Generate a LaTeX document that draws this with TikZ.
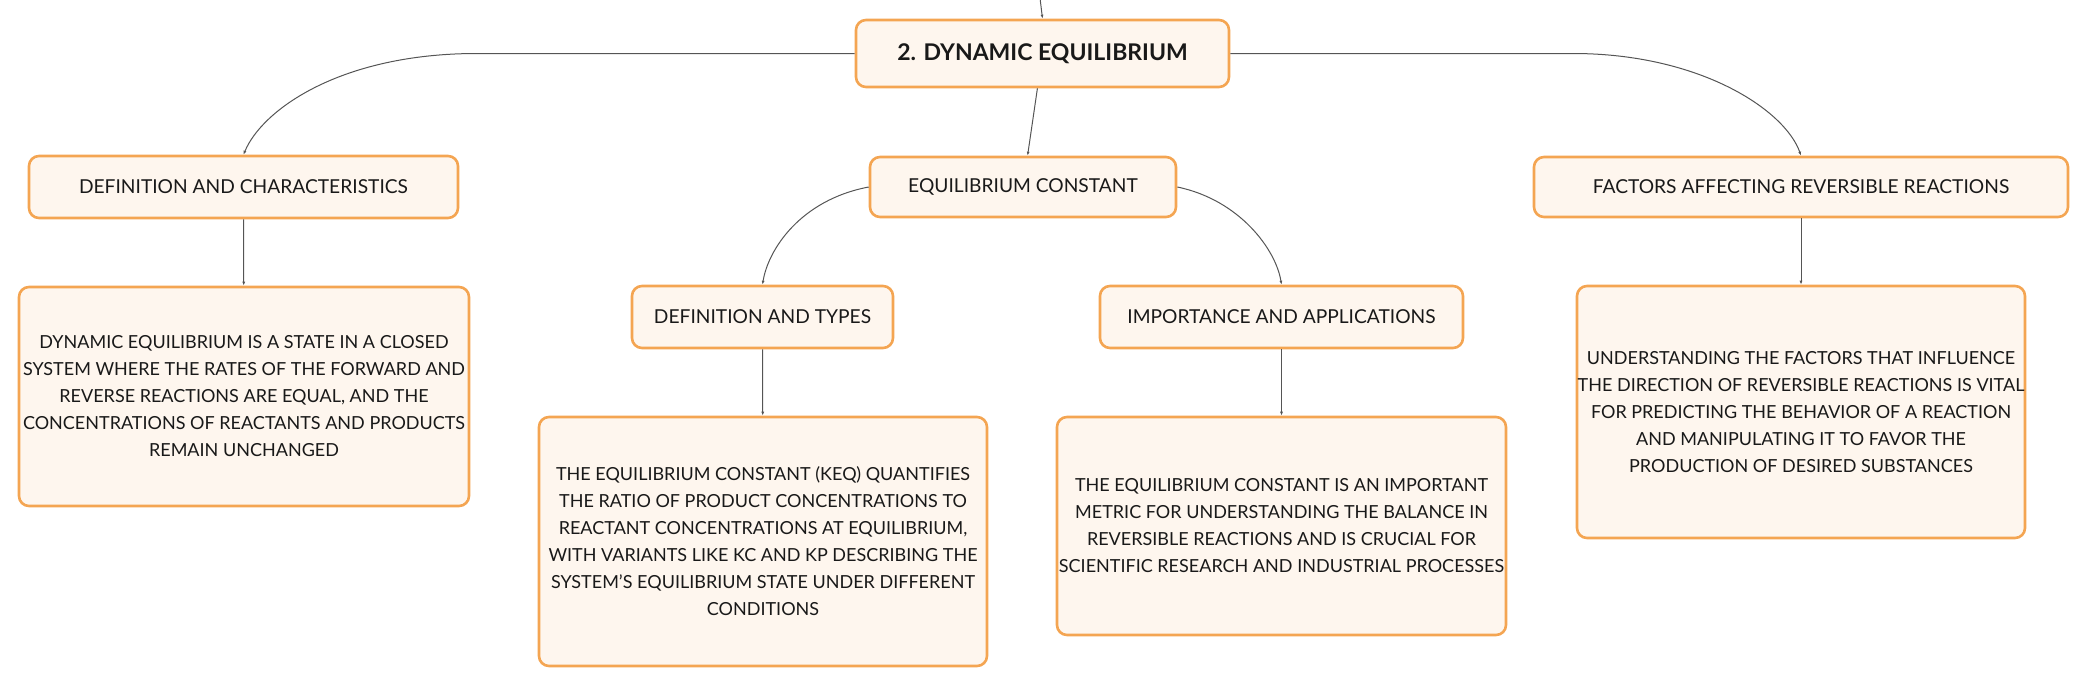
\documentclass[tikz,border=0pt]{standalone}
\usepackage{fontspec}
\setmainfont{Lato}
\usepackage{tikz}
\usetikzlibrary{arrows.meta}
\usepackage{xcolor}
\definecolor{boxline}{HTML}{F4A552}
\definecolor{boxfill}{HTML}{FEF6EE}
\definecolor{linkgray}{HTML}{555555}
\tikzset{
  box/.style={draw=boxline,fill=boxfill,line width=2.6pt,rounded corners=10pt,
    align=center,inner sep=0pt,text=black!90,font=\fontsize{18}{27}\selectfont},
  label/.style={box,font=\fontsize{19.2}{27}\selectfont},
  link/.style={draw=linkgray,line width=1pt,->}
}
\begin{document}
\begin{tikzpicture}[>={Latex[length=4pt,width=3pt]},x=1pt,y=-1pt]
    \useasboundingbox (0,0) rectangle (2088,688);
    \node[box,minimum width=373,minimum height=67,font=\fontsize{23}{27}\selectfont\bfseries] (title) at (1042.5,53.5) {2. DYNAMIC EQUILIBRIUM};
    \node[label,minimum width=429,minimum height=62] (defchar) at (243.5,187) {DEFINITION AND CHARACTERISTICS};
    \node[label,minimum width=306,minimum height=60] (eqconst) at (1023,187) {EQUILIBRIUM CONSTANT};
    \node[label,minimum width=534,minimum height=60] (factors) at (1801,187) {FACTORS AFFECTING REVERSIBLE REACTIONS};
    \node[label,minimum width=261,minimum height=62] (deftypes) at (762.5,317) {DEFINITION AND TYPES};
    \node[label,minimum width=363,minimum height=62] (import) at (1281.5,317) {IMPORTANCE AND APPLICATIONS};
    \node[box,minimum width=450,minimum height=219] (defchartxt) at (244,396.5) {DYNAMIC EQUILIBRIUM IS A STATE IN A CLOSED\\SYSTEM WHERE THE RATES OF THE FORWARD AND\\REVERSE REACTIONS ARE EQUAL, AND THE\\CONCENTRATIONS OF REACTANTS AND PRODUCTS\\REMAIN UNCHANGED};
    \node[box,minimum width=448,minimum height=249] (deftypestxt) at (763,541.5) {THE EQUILIBRIUM CONSTANT (KEQ) QUANTIFIES\\THE RATIO OF PRODUCT CONCENTRATIONS TO\\REACTANT CONCENTRATIONS AT EQUILIBRIUM,\\WITH VARIANTS LIKE KC AND KP DESCRIBING THE\\SYSTEM'S EQUILIBRIUM STATE UNDER DIFFERENT\\CONDITIONS};
    \node[box,minimum width=449,minimum height=218] (importtxt) at (1281.5,526) {THE EQUILIBRIUM CONSTANT IS AN IMPORTANT\\METRIC FOR UNDERSTANDING THE BALANCE IN\\REVERSIBLE REACTIONS AND IS CRUCIAL FOR\\SCIENTIFIC RESEARCH AND INDUSTRIAL PROCESSES};
    \node[box,minimum width=448,minimum height=252] (factorstxt) at (1801,412) {UNDERSTANDING THE FACTORS THAT INFLUENCE\\THE DIRECTION OF REVERSIBLE REACTIONS IS VITAL\\FOR PREDICTING THE BEHAVIOR OF A REACTION\\AND MANIPULATING IT TO FAVOR THE\\PRODUCTION OF DESIRED SUBSTANCES};
    \coordinate (parent) at (1040,-2);
    \draw[link] (parent) -- (title.north);
    \draw[link] (title.west) -- (477,53.5) .. controls (340,53.5) and (262,110) .. (defchar.north);
    \draw[link] (title.east) -- (1573,53.5) .. controls (1700,53.5) and (1785,110) .. (factors.north);
    \draw[link] (title) -- (eqconst);
    \draw[link] (eqconst.west) .. controls (800,200) and (768,250) .. (deftypes.north);
    \draw[link] (eqconst.east) .. controls (1240,200) and (1276,250) .. (import.north);
    \draw[link] (defchar) -- (defchartxt);
    \draw[link] (deftypes) -- (deftypestxt);
    \draw[link] (import) -- (importtxt);
    \draw[link] (factors) -- (factorstxt);
    \end{tikzpicture}
\end{document}
